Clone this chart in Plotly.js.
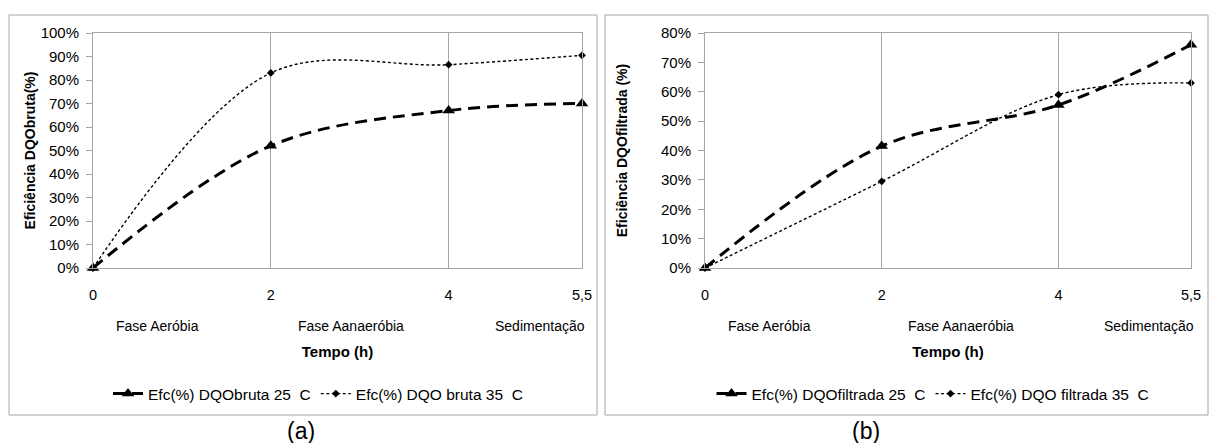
<!DOCTYPE html>
<html>
<head>
<meta charset="utf-8">
<script src="https://cdn.plot.ly/plotly-3.0.1.min.js"></script>
<style>html,body{margin:0;padding:0;background:#fff;}#chart{width:1211px;height:443px;}</style>
</head>
<body>
<div id="chart"></div>
<script>
// ---- data ----
const tempo = [0, 2, 4, 5.5];
const tickText = ['0', '2', '4', '5,5'];
const fases = ['Fase Aeróbia', 'Fase Aanaeróbia', 'Sedimentação'];
const brutaNames = ['Efc(%) DQObruta 25\u00a0 C', 'Efc(%) DQO bruta 35\u00a0 C'];
const filtNames = ['Efc(%) DQOfiltrada 25\u00a0 C', 'Efc(%) DQO filtrada 35\u00a0 C'];
const bruta25 = [0, 0.52, 0.67, 0.70];
const bruta35 = [0, 0.83, 0.865, 0.905];
const filt25 = [0, 0.415, 0.555, 0.76];
const filt35 = [0, 0.295, 0.59, 0.63];

// ---- layout helpers ----
const W = 1211, H = 443;
const px = v => v / W;
const py = v => 1 - v / H;
const FONT = 'Liberation Sans, Arial, sans-serif';
const GRAY = '#a6a6a6';

const style25 = {
  mode: 'lines+markers',
  line: {color: '#000', width: 3, dash: '12px,7px', shape: 'spline', smoothing: 1},
  marker: {symbol: 'triangle-up', size: 11, color: '#000'},
  cliponaxis: false
};
const style35 = {
  mode: 'lines+markers',
  line: {color: '#000', width: 1.4, dash: '3px,2.5px', shape: 'spline', smoothing: 1},
  marker: {symbol: 'diamond', size: 6, color: '#000'},
  cliponaxis: false
};

const traces = [
  Object.assign({x: tempo, y: bruta25, name: brutaNames[0], xaxis: 'x', yaxis: 'y', legend: 'legend'}, style25),
  Object.assign({x: tempo, y: bruta35, name: brutaNames[1], xaxis: 'x', yaxis: 'y', legend: 'legend'}, style35),
  Object.assign({x: tempo, y: filt25, name: filtNames[0], xaxis: 'x2', yaxis: 'y2', legend: 'legend2'}, style25),
  Object.assign({x: tempo, y: filt35, name: filtNames[1], xaxis: 'x2', yaxis: 'y2', legend: 'legend2'}, style35)
];

function xAxis(domain, anchor) {
  return {
    domain: domain, anchor: anchor, range: [0, 5.5],
    tickvals: tempo, ticktext: tickText,
    showgrid: true, gridcolor: GRAY, gridwidth: 1,
    showline: true, linecolor: GRAY, linewidth: 1, mirror: true,
    zeroline: false, ticks: '', ticklabelstandoff: 14,
    tickfont: {family: FONT, size: 14.5, color: '#000'},
    title: {text: '<b>Tempo (h)</b>', font: {family: FONT, size: 15, color: '#000'}, standoff: 44}
  };
}
function yAxis(domain, anchor, max, title, standoff) {
  return {
    domain: domain, anchor: anchor, range: [0, max], dtick: 0.1, tickformat: '.0%',
    showgrid: false, showline: true, linecolor: GRAY, linewidth: 1, mirror: true,
    zeroline: false, ticks: 'outside', ticklen: 6, tickcolor: GRAY, ticklabelstandoff: 4,
    tickfont: {family: FONT, size: 15, color: '#000'},
    title: {text: '<b>' + title + '</b>', font: {family: FONT, size: 14, color: '#000'}, standoff: standoff}
  };
}

const yDom = [py(268), py(33)];
const phaseX = [0.73, 2.9, 5.03];

const annotations = [];
['x', 'x2'].forEach(ax => {
  fases.forEach((f, i) => annotations.push({
    xref: ax, yref: 'paper', x: phaseX[i], y: py(326), showarrow: false,
    text: f, font: {family: FONT, size: 14, color: '#000'}, xanchor: 'center', yanchor: 'middle'
  }));
});
annotations.push({xref: 'paper', yref: 'paper', x: px(301), y: py(431), text: '(a)', showarrow: false,
  font: {family: FONT, size: 23, color: '#000'}, xanchor: 'center', yanchor: 'middle'});
annotations.push({xref: 'paper', yref: 'paper', x: px(866), y: py(431), text: '(b)', showarrow: false,
  font: {family: FONT, size: 23, color: '#000'}, xanchor: 'center', yanchor: 'middle'});

const legendBase = {
  orientation: 'h', xanchor: 'center', yanchor: 'middle', y: py(394),
  font: {family: FONT, size: 15.5, color: '#000'}, bgcolor: 'rgba(0,0,0,0)', itemwidth: 30, tracegroupgap: 0
};

const layout = {
  width: W, height: H,
  margin: {l: 0, r: 0, t: 0, b: 0},
  paper_bgcolor: '#fff', plot_bgcolor: '#fff',
  font: {family: FONT, size: 14, color: '#000'},
  xaxis: xAxis([px(93), px(582)], 'y'),
  yaxis: yAxis(yDom, 'x', 1.0, 'Eficiência DQObruta(%)', 1),
  xaxis2: xAxis([px(705), px(1191)], 'y2'),
  yaxis2: yAxis(yDom, 'x2', 0.8, 'Eficiência DQOfiltrada (%)', 30),
  legend: Object.assign({x: px(318)}, legendBase),
  legend2: Object.assign({x: px(933)}, legendBase),
  showlegend: true,
  annotations: annotations,
  shapes: [
    {type: 'rect', xref: 'paper', yref: 'paper', x0: px(9), x1: px(597), y0: py(415), y1: py(15),
      line: {color: GRAY, width: 1}, layer: 'below'},
    {type: 'rect', xref: 'paper', yref: 'paper', x0: px(605), x1: px(1208), y0: py(415), y1: py(15),
      line: {color: GRAY, width: 1}, layer: 'below'}
  ]
};

Plotly.newPlot('chart', traces, layout, {staticPlot: true, displayModeBar: false});
</script>
</body>
</html>
